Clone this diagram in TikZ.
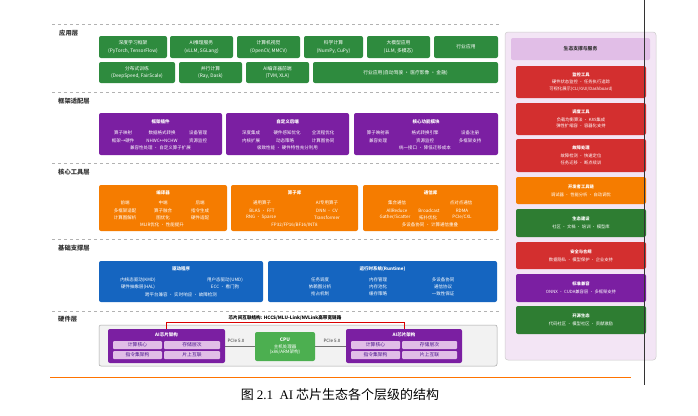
\documentclass[tikz,border=0pt]{standalone}
\usepackage{fontspec}
\setmainfont{Noto Sans CJK SC}
\newfontfamily\libser{Liberation Serif}
\definecolor{gA}{HTML}{2E8B3E}
\definecolor{pF}{HTML}{7B1FA2}
\definecolor{oC}{HTML}{F57C00}
\definecolor{bB}{HTML}{1565C0}
\definecolor{rR}{HTML}{D32F2F}
\definecolor{gR}{HTML}{2E7D32}
\definecolor{lp}{HTML}{F3E5F5}
\definecolor{hp}{HTML}{E1BEE7}
\definecolor{cpuG}{HTML}{4CAF50}
\definecolor{hwG}{HTML}{F2F2F2}
\definecolor{dk}{HTML}{333333}
\definecolor{cellT}{HTML}{4A148C}
\newcommand\fsA{\fontsize{4.8}{7.2}\selectfont}
\newcommand\fsB{\fontsize{4.5}{5.5}\selectfont}
\newcommand\fsR{\fontsize{4.3}{6.8}\selectfont}
\newcommand\bx[7][]{\node[boxsty,#1,minimum width={(#5)-(#3)},minimum height={(#6)-(#4)}] (#2) at ({((#3)+(#5))/2},{((#4)+(#6))/2}) {#7};}
\newcommand\tx[4]{\node[txt] (#1) at (#2,#3) {#4};}
\begin{document}
\begin{tikzpicture}[x=1pt,y=-1pt,
  boxsty/.style={rounded corners=2pt,draw=none,inner sep=0pt,align=center,text=white,font=\fsA},
  txt/.style={inner sep=0pt,text=white,font=\fsB},
  lay/.style={anchor=west,inner sep=0pt,text=dk,font=\fontsize{6.3}{7}\selectfont\bfseries},
  sep/.style={draw=black!30,dashed,line width=0.5pt},
  rbox/.style={boxsty,font=\fsR},
  cell/.style={boxsty,fill=hp,text=cellT,rounded corners=1pt,font=\fontsize{4.8}{5.5}\selectfont}]
\useasboundingbox (0,0) rectangle (698,415);
\fill[white] (0,0) rectangle (698,415);

% separators
\draw[sep] (52,24) -- (500,24);
\draw[sep] (52,92.5) -- (500,92.5);
\draw[sep] (52,163) -- (500,163);
\draw[sep] (52,239) -- (500,239);
\draw[sep] (52,311) -- (500,311);

% layer labels
\node[lay] (L1) at (59,33) {应用层};
\node[lay] (L2) at (58,101) {框架适配层};
\node[lay] (L3) at (58,172) {核心工具层};
\node[lay] (L4) at (58,248) {基础支撑层};
\node[lay] (L5) at (58,319) {硬件层};

% application layer
\bx[fill=gA]{a1}{99}{36}{167}{58}{深度学习框架\\(PyTorch, TensorFlow)}
\bx[fill=gA]{a2}{170}{36}{233}{58}{AI推理服务\\(vLLM, SGLang)}
\bx[fill=gA]{a3}{237}{36}{300}{58}{计算机视觉\\(OpenCV, MMCV)}
\bx[fill=gA]{a4}{304}{36}{363}{58}{科学计算\\(NumPy, CuPy)}
\bx[fill=gA]{a5}{367}{36}{430}{58}{大模型应用\\(LLM, 多模态)}
\bx[fill=gA]{a6}{434}{36}{498}{58}{行业应用}
\bx[fill=gA]{b1}{99}{62}{175}{83}{分布式训练\\(DeepSpeed, FairScale)}
\bx[fill=gA]{b2}{179}{62}{242}{83}{并行计算\\(Ray, Dask)}
\bx[fill=gA]{b3}{246}{62}{309}{83}{AI编译器前端\\(TVM, XLA)}
\bx[fill=gA]{b4}{313}{62}{498}{83}{行业应用(自动驾驶 · 医疗影像 · 金融)}

% framework layer
\bx[fill=pF]{f1}{99}{113}{222}{155}{}
\bx[fill=pF]{f2}{226}{113}{349}{155}{}
\bx[fill=pF]{f3}{354}{113}{498}{155}{}
\tx{f1t}{160.5}{122}{\textbf{框架插件}}
\tx{f1a}{123}{132.5}{算子映射}\tx{f1b}{162}{132.5}{数据格式转换}\tx{f1c}{198}{132.5}{设备管理}
\tx{f1d}{123}{140.5}{框架→硬件}\tx{f1e}{162}{140.5}{NHWC↔NCHW}\tx{f1f}{198}{140.5}{资源监控}
\tx{f1g}{160.5}{148}{兼容性处理 · 自定义算子扩展}
\tx{f2t}{287.5}{122}{\textbf{自定义后端}}
\tx{f2a}{251}{132.5}{深度集成}\tx{f2b}{287}{132.5}{硬件感知优化}\tx{f2c}{323}{132.5}{全流程优化}
\tx{f2d}{251}{140.5}{内核扩展}\tx{f2e}{285}{140.5}{动态策略}\tx{f2f}{323}{140.5}{计算图协同}
\tx{f2g}{287.5}{148}{极致性能 · 硬件特性充分利用}
\tx{f3t}{426}{122}{\textbf{核心功能模块}}
\tx{f3a}{378}{132.5}{算子映射表}\tx{f3b}{425}{132.5}{格式转换引擎}\tx{f3c}{470}{132.5}{设备注册}
\tx{f3d}{378}{140.5}{兼容处理}\tx{f3e}{425}{140.5}{资源监控}\tx{f3f}{470}{140.5}{多框架支持}
\tx{f3g}{425}{148}{统一接口 · 降低迁移成本}

% core tools layer
\bx[fill=oC]{c1}{99}{185}{227}{231}{}
\bx[fill=oC]{c2}{231}{185}{358}{231}{}
\bx[fill=oC]{c3}{363}{185}{498}{231}{}
\tx{c1t}{163}{193}{\textbf{编译器}}
\tx{c1a}{125}{203}{前端}\tx{c1b}{163}{203}{中端}\tx{c1c}{200}{203}{后端}
\tx{c1d}{125}{210.5}{多框架适配}\tx{c1e}{163}{210.5}{算子融合}\tx{c1f}{200}{210.5}{指令生成}
\tx{c1g}{125}{217.5}{计算图解析}\tx{c1h}{163}{217.5}{图优化}\tx{c1i}{200}{217.5}{硬件适配}
\tx{c1j}{162}{225}{MLIR优化 · 性能提升}
\tx{c2t}{294.5}{193}{\textbf{算子库}}
\tx{c2a}{262}{203}{通用算子}\tx{c2b}{327}{203}{AI专用算子}
\tx{c2c}{262}{210.5}{BLAS · FFT}\tx{c2d}{327}{210.5}{DNN · CV}
\tx{c2e}{261}{217.5}{RNG · Sparse}\tx{c2f}{327}{217.5}{Transformer}
\tx{c2g}{294.5}{225}{FP32/FP16/BF16/INT8}
\tx{c3t}{430.5}{193}{\textbf{通信库}}
\tx{c3a}{397}{203}{集合通信}\tx{c3b}{461}{203}{点对点通信}
\tx{c3c}{397}{210.5}{AllReduce}\tx{c3d}{429}{210.5}{Broadcast}\tx{c3e}{462}{210.5}{RDMA}
\tx{c3f}{395}{217.5}{Gather/Scatter}\tx{c3g}{428}{217.5}{拓扑优化}\tx{c3h}{462}{217.5}{PCIe/CXL}
\tx{c3i}{430}{225}{多设备协同 · 计算通信重叠}

% base support layer
\bx[fill=bB]{d1}{99}{261}{263}{302}{}
\bx[fill=bB]{d2}{268}{261}{497}{302}{}
\tx{d1t}{181}{269}{\textbf{驱动程序}}
\tx{d1a}{138}{280}{内核态驱动(KMD)}\tx{d1b}{225}{280}{用户态驱动(UMD)}
\tx{d1c}{138}{287}{硬件抽象层(HAL)}\tx{d1d}{225}{287}{ECC · 看门狗}
\tx{d1e}{181}{295}{跨平台兼容 · 实时响应 · 故障检测}
\tx{d2t}{382.5}{269}{\textbf{运行时系统(Runtime)}}
\tx{d2a}{320}{280}{任务调度}\tx{d2b}{378}{280}{内存管理}\tx{d2c}{443}{280}{多设备协同}
\tx{d2d}{320}{287}{依赖图分析}\tx{d2e}{378}{287}{内存池化}\tx{d2f}{443}{287}{通信协议}
\tx{d2g}{320}{294}{抢占机制}\tx{d2h}{378}{294}{缓存策略}\tx{d2i}{443}{294}{一致性保证}

% hardware layer
\bx[fill=hwG,draw=black!35,line width=0.5pt]{hw}{99}{325}{497}{366}{}
\bx[fill=pF]{ch1}{108}{329}{225}{363}{}
\tx{ch1t}{166.5}{335}{\textbf{AI芯片架构}}
\bx[cell]{ch1a}{113}{341}{162}{349}{计算核心}
\bx[cell]{ch1b}{164}{341}{220}{349}{存储层次}
\bx[cell]{ch1c}{113}{351}{162}{359}{指令集架构}
\bx[cell]{ch1d}{164}{351}{220}{359}{片上互联}
\bx[fill=pF]{ch2}{346}{329}{462}{363}{}
\tx{ch2t}{404}{335}{\textbf{AI芯片架构}}
\bx[cell]{ch2a}{351}{341}{400}{349}{计算核心}
\bx[cell]{ch2b}{402}{341}{457}{349}{存储层次}
\bx[cell]{ch2c}{351}{351}{400}{359}{指令集架构}
\bx[cell]{ch2d}{402}{351}{457}{359}{片上互联}
\bx[fill=cpuG]{cpu}{255}{332}{315}{361}{\textbf{CPU}\\[-1pt]{\fontsize{4.5}{5.5}\selectfont 主机处理器}\\[-1.5pt]{\fontsize{4.5}{5.5}\selectfont (x86/ARM架构)}}
\draw[black!55,line width=0.6pt] (ch1.east) -- (cpu.west |- ch1.east);
\draw[black!55,line width=0.6pt] (cpu.east |- ch2.west) -- (ch2.west);
\node[txt,text=dk] (p1) at (236,340.5) {PCIe 5.0};
\node[txt,text=dk] (p2) at (332,340.5) {PCIe 5.0};
\draw[red!85!black,line width=0.8pt] (ch1.north) -- ++(0,-6) -| (ch2.north);
\node[txt,text=black,font=\fontsize{4.6}{5.5}\selectfont\bfseries] (ll) at (285,317.5) {芯片间互联结构: HCCS/MLU-Link/NVLink高带宽链路};

% right panel
\bx[fill=lp,draw=black!20,line width=0.5pt,rounded corners=3pt]{rp}{505}{32}{656}{360}{}
\bx[fill=hp,text=dk,font=\fontsize{4.8}{6}\selectfont\bfseries,rounded corners=2pt]{rh}{511}{38}{650}{60}{生态支撑与服务}
\bx[rbox,fill=rR]{r1}{516}{66}{646}{98}{\textbf{监控工具}\\[1pt]硬件状态监控 · 任务执行追踪\\可视化展示(CLI/GUI/Dashboard)}
\bx[rbox,fill=rR]{r2}{516}{103}{646}{135}{\textbf{调度工具}\\[1pt]负载均衡算法 · K8S集成\\弹性扩缩容 · 容器化支持}
\bx[rbox,fill=rR]{r3}{516}{139}{646}{172}{\textbf{故障处理}\\[1pt]故障检测 · 快速定位\\任务迁移 · 断点续训}
\bx[rbox,fill=oC]{r4}{516}{177}{646}{204}{\textbf{开发者工具链}\\[1pt]调试器 · 性能分析 · 自动调优}
\bx[rbox,fill=gR]{r5}{516}{209}{646}{237}{\textbf{生态建设}\\[1pt]社区 · 文档 · 培训 · 模型库}
\bx[rbox,fill=rR]{r6}{516}{242}{646}{269}{\textbf{安全与合规}\\[1pt]数据隐私 · 模型保护 · 企业支持}
\bx[rbox,fill=pF]{r7}{516}{274}{646}{302}{\textbf{标准兼容}\\[1pt]ONNX · CUDA兼容层 · 多框架支持}
\bx[rbox,fill=gR]{r8}{516}{306}{646}{334}{\textbf{开源生态}\\[1pt]代码社区 · 模型社区 · 贡献激励}

% page rules
\draw[black!80,line width=0.8pt] (644,0) -- (644,385);
\draw[orange!90!red,line width=0.8pt] (50,377) -- (631,377);

% caption
\node[inner sep=0pt,font=\fontsize{13}{15}\selectfont] (cap) at (340,395) {图 {\libser 2.1\ \ AI} 芯片生态各个层级的结构};
\end{tikzpicture}
\end{document}
